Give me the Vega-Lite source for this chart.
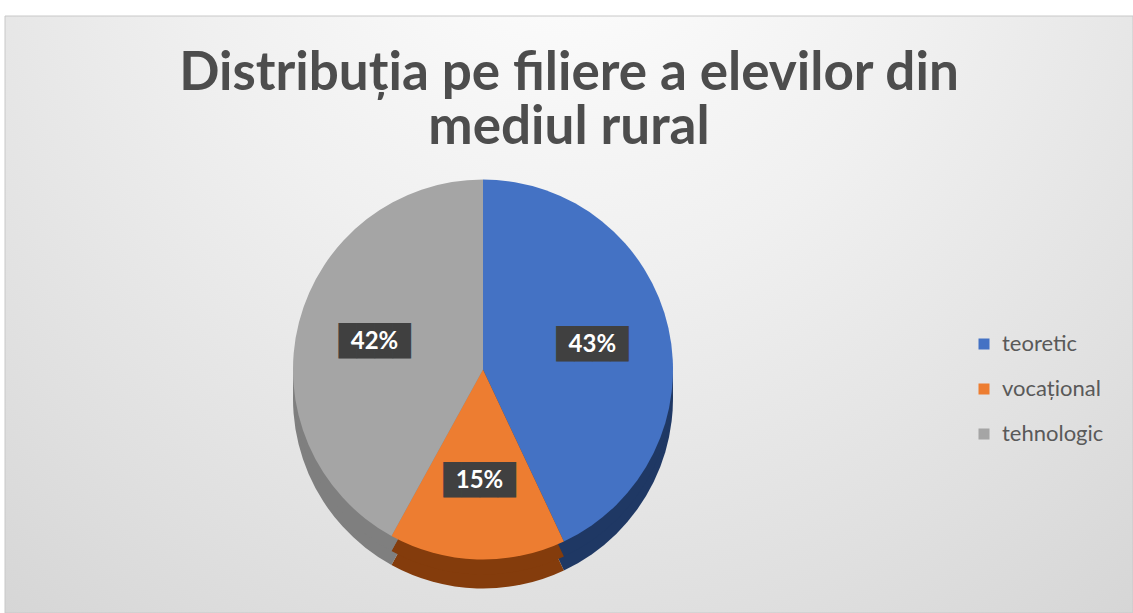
{
  "$schema": "https://vega.github.io/schema/vega-lite/v6.json",
  "width": 1128,
  "height": 597,
  "autosize": {"type": "none"},
  "padding": {"left": 5, "top": 16, "right": 0, "bottom": 0},
  "background": "#ffffff",
  "title": {
    "text": ["Distribuția pe filiere a elevilor din", "mediul rural"],
    "anchor": "middle",
    "orient": "top",
    "offset": -139,
    "font": "Lato",
    "fontSize": 53,
    "fontWeight": "bold",
    "color": "#4d4d4d",
    "lineHeight": 54
  },
  "config": {"view": {"stroke": null}},
  "data": {
    "values": [
      {"filiera": "teoretic", "procent": 0.43, "ord": 1},
      {"filiera": "vocațional", "procent": 0.15, "ord": 2},
      {"filiera": "tehnologic", "procent": 0.42, "ord": 3}
    ]
  },
  "layer": [
    {
      "data": {"values": [{"fundal": 1}]},
      "mark": {
        "type": "rect",
        "stroke": "#c8c8c8",
        "strokeWidth": 1,
        "color": {
          "gradient": "radial",
          "x1": 0.5, "y1": 0.12, "r1": 0,
          "x2": 0.5, "y2": 0.12, "r2": 0.85,
          "stops": [
            {"offset": 0, "color": "#ffffff"},
            {"offset": 0.4, "color": "#f0f0f0"},
            {"offset": 0.75, "color": "#e0e0e0"},
            {"offset": 1, "color": "#d4d4d4"}
          ]
        }
      },
      "encoding": {}
    },
    {
      "mark": {"type": "arc", "outerRadius": 190, "xOffset": -86, "yOffset": 84},
      "encoding": {
        "theta": {"field": "procent", "type": "quantitative", "stack": true},
        "order": {"field": "ord", "type": "ordinal"},
        "fill": {"field": "filiera", "type": "nominal",
          "scale": {"range": ["#7f7f7f", "#1f3864", "#843c0c"]},
          "legend": null}
      }
    },
    {
      "mark": {"type": "arc", "outerRadius": 190, "xOffset": -86, "yOffset": 70},
      "encoding": {
        "theta": {"field": "procent", "type": "quantitative", "stack": true},
        "order": {"field": "ord", "type": "ordinal"},
        "fill": {"field": "filiera", "type": "nominal",
          "scale": {"range": ["#7f7f7f", "#1f3864", "#843c0c"]},
          "legend": null}
      }
    },
    {
      "mark": {"type": "arc", "outerRadius": 190, "xOffset": -86, "yOffset": 55},
      "encoding": {
        "theta": {"field": "procent", "type": "quantitative", "stack": true},
        "order": {"field": "ord", "type": "ordinal"},
        "color": {"field": "filiera", "type": "nominal",
          "scale": {"domain": ["teoretic", "vocațional", "tehnologic"], "range": ["#4472c4", "#ed7d31", "#a5a5a5"]},
          "legend": {
            "orient": "none",
            "legendX": 960,
            "legendY": 309,
            "title": null,
            "symbolType": "square",
            "symbolSize": 121,
            "symbolStrokeWidth": 0,
            "labelFont": "Lato",
            "labelFontSize": 22,
            "labelColor": "#595959",
            "labelOffset": 7,
            "rowPadding": 23,
            "padding": 8
          }
        }
      }
    },
    {
      "mark": {"type": "text", "font": "DejaVu Sans Mono", "fontSize": 30, "color": "#404040", "baseline": "middle", "xOffset": -86, "yOffset": 55},
      "encoding": {
        "theta": {"field": "procent", "type": "quantitative", "stack": true},
        "order": {"field": "ord", "type": "ordinal"},
        "radius": {"value": 112},
        "text": {"value": "████"}
      }
    },
    {
      "mark": {"type": "text", "font": "Lato", "fontSize": 24, "fontWeight": "bold", "color": "#ffffff", "baseline": "middle", "xOffset": -86, "yOffset": 55},
      "encoding": {
        "theta": {"field": "procent", "type": "quantitative", "stack": true},
        "order": {"field": "ord", "type": "ordinal"},
        "radius": {"value": 112},
        "text": {"field": "procent", "type": "quantitative", "format": ".0%"}
      }
    }
  ]
}
